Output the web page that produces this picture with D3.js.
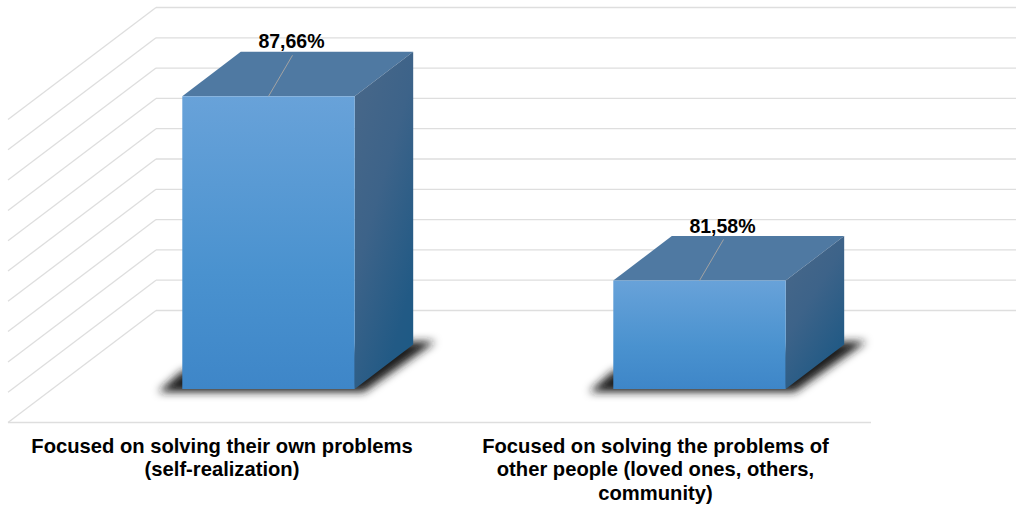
<!DOCTYPE html>
<html><head><meta charset="utf-8">
<script src="https://cdn.jsdelivr.net/npm/d3@7"></script>
<style>html,body{margin:0;padding:0;background:#fff}svg{display:block}</style>
</head><body><svg id="c" width="1016" height="506"></svg>
<script>
const categories = ["own", "others"];
const categoryLines = [
  ["Focused on solving their own problems", "(self-realization)"],
  ["Focused on solving the problems of", "other people (loved ones, others,", "community)"]
];
const values = [87.66, 81.58];
const valueLabels = ["87,66%", "81,58%"];
const gridValues = [78, 79, 80, 81, 82, 83, 84, 85, 86, 87, 88];

const svg = d3.select("#c");
const x = d3.scaleBand().domain(categories).range([53, 915]).paddingInner(0.6).paddingOuter(0.3);
const y = d3.scaleLinear().domain([78, 88]).range([310.5, 7.5]); // on the back wall
// axis labels sit on their own evenly spaced centres
const labelX = d3.scalePoint().domain(categories).range([222, 655.5]);
// oblique projection of the depth axis
const wallX = 156, frontX = 8, wallDrop = 112, floorRight = 871, wallRight = 1016;
const barDX = 58.5, barDY = 44.5;   // bar depth
const frontDrop = 78.5;             // bar front face below back wall

const defs = svg.append("defs");
const grad = (id, x1, y1, x2, y2, stops) => {
  const g = defs.append("linearGradient").attr("id", id)
    .attr("x1", x1).attr("y1", y1).attr("x2", x2).attr("y2", y2);
  stops.forEach(s => g.append("stop").attr("offset", s[0]).attr("stop-color", s[1]));
};
grad("front", 0, 0, 0, 1, [[0, "#68a2d9"], [0.6, "#4a92cf"], [1, "#3e86c8"]]);
grad("side", 0.2, 0, 0.8, 1, [[0, "#476789"], [0.4, "#3d6389"], [0.85, "#225a85"], [1, "#1e5a85"]]);
const blur = defs.append("filter").attr("id", "blur").attr("filterUnits", "userSpaceOnUse")
  .attr("x", 0).attr("y", 0).attr("width", 1016).attr("height", 506);
blur.append("feGaussianBlur").attr("stdDeviation", 4.2);

const gridColor = "#dedede";
const grid = svg.append("g").attr("fill", "none").attr("stroke", gridColor).attr("stroke-width", 1.3);
grid.selectAll(".wall").data(gridValues).join("line").attr("class", "wall")
  .attr("x1", wallX).attr("x2", wallRight).attr("y1", d => y(d)).attr("y2", d => y(d));
grid.selectAll(".side").data(gridValues).join("line").attr("class", "side")
  .attr("x1", wallX).attr("x2", frontX).attr("y1", d => y(d)).attr("y2", d => y(d) + wallDrop);
grid.append("line").attr("x1", frontX).attr("x2", floorRight)
  .attr("y1", y(78) + wallDrop).attr("y2", y(78) + wallDrop);

const pts = a => a.map(p => p.join(",")).join(" ");
const bars = svg.selectAll(".bar").data(categories.map((c, i) => ({c, v: values[i], l: valueLabels[i], lines: categoryLines[i]})))
  .join("g").attr("class", "bar");

bars.each(function(d) {
  const g = d3.select(this);
  const x0 = x(d.c), x1 = x0 + x.bandwidth();
  const top = y(d.v) + frontDrop, base = y(78) + frontDrop;
  // floor shadow
  g.append("polygon").attr("fill", "#1f1f1f").attr("filter", "url(#blur)")
    .attr("points", pts([[x0 - 24, base + 3], [x0, base - 18], [x1 + barDX, base - barDY - 3],
      [x1 + barDX + 22, base - barDY - 3], [x1 + 9, base + 3]]));
  // top
  g.append("polygon").attr("fill", "#4f79a2")
    .attr("points", pts([[x0, top], [x0 + barDX, top - barDY], [x1 + barDX, top - barDY], [x1, top]]));
  // side
  g.append("polygon").attr("fill", "url(#side)")
    .attr("points", pts([[x1, top], [x1 + barDX, top - barDY], [x1 + barDX, base - barDY], [x1, base]]));
  // front
  g.append("rect").attr("x", x0).attr("y", top).attr("width", x.bandwidth()).attr("height", base - top)
    .attr("fill", "url(#front)");
  // leader
  const cx = (x0 + x1) / 2;
  g.append("line").attr("x1", cx).attr("y1", top).attr("x2", cx + 24).attr("y2", top - 41)
    .attr("stroke", "#a3a3a3").attr("stroke-width", 1);
  g.append("text").attr("x", cx + 23).attr("y", top - 48)
    .attr("text-anchor", "middle").attr("font-family", "Liberation Sans, Arial, sans-serif")
    .attr("font-weight", "bold").attr("font-size", 19.5).attr("fill", "#000").text(d.l);
  // category label
  g.append("g").selectAll("text").data(d.lines).join("text")
    .attr("x", labelX(d.c)).attr("y", (_, i) => 452.5 + i * 23.5)
    .attr("text-anchor", "middle").attr("font-family", "Liberation Sans, Arial, sans-serif")
    .attr("font-weight", "bold").attr("font-size", 20.2).attr("fill", "#000").text(t => t);
});
</script></body></html>
